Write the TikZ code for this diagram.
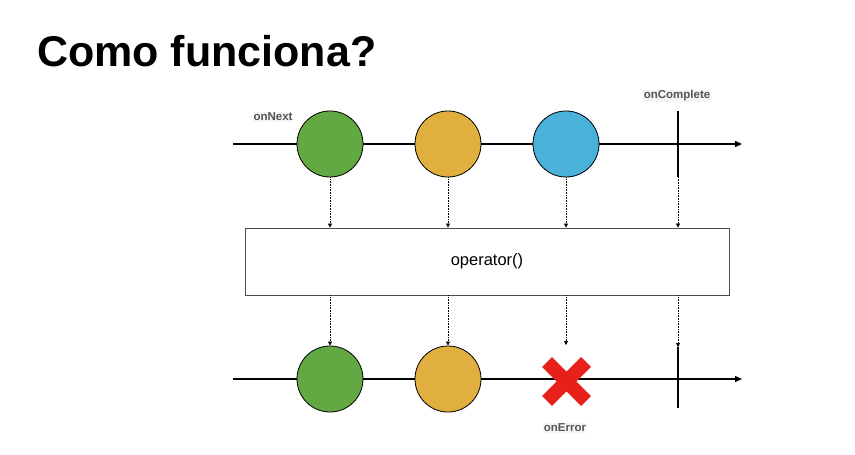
\documentclass[tikz,border=0pt]{standalone}
\usepackage{fontspec}
\setmainfont{Liberation Sans}
\usetikzlibrary{arrows.meta}
\definecolor{evgreen}{HTML}{62A943}
\definecolor{evorange}{HTML}{DFB03F}
\definecolor{evblue}{HTML}{4AB1D9}
\definecolor{everr}{HTML}{E8201A}
\definecolor{lbl}{HTML}{555555}
\tikzset{
  timeline/.style={line width=1.3pt, -{Triangle[length=7pt,width=6pt]}},
  marble/.style={circle, draw=black, line width=0.8pt, minimum size=66pt, inner sep=0pt},
  flow/.style={densely dotted, line width=0.6pt, -{Triangle[length=4pt,width=4pt]}},
  endmark/.style={line width=1.3pt},
  evlabel/.style={font=\bfseries\fontsize{11.5}{13}\selectfont, text=lbl, fill=black!4, inner sep=1pt},
  opbox/.style={draw=black!70, line width=0.8pt, minimum width=484pt, minimum height=67pt, inner sep=0pt},
}
\begin{document}
\begin{tikzpicture}[x=1pt, y=-1pt]
\useasboundingbox[fill=white] (0,0) rectangle (855,455);

% title
\node[anchor=base west, inner sep=0pt, font=\bfseries\fontsize{43}{48}\selectfont] (title) at (37,66) {Como funciona?};

% source stream
\coordinate (s0) at (233,144);
\coordinate (s1) at (742,144);
\draw[timeline] (s0) -- (s1);
\node[marble, fill=evgreen] (a1) at (330,144) {};
\node[marble, fill=evorange] (a2) at (448,144) {};
\node[marble, fill=evblue] (a3) at (566,144) {};
\coordinate (ct) at (678,111);
\coordinate (cb) at (678,177);
\draw[endmark] (ct) -- (cb);
\node[evlabel] (onnext) at (273,117) {onNext};
\node[evlabel] (oncomplete) at (677,96) {onComplete};

% operator
\node[opbox] (op) at (487,261.5) {\fontsize{16.5}{19}\selectfont operator()};

% result stream
\coordinate (r0) at (233,379);
\coordinate (r1) at (742,379);
\draw[timeline] (r0) -- (r1);
\node[marble, fill=evgreen] (b1) at (330,379) {};
\node[marble, fill=evorange] (b2) at (448,379) {};
\coordinate (x0) at (566.5,381.5);
\draw[everr, line width=14pt] ([shift={(-19.5,-19.5)}]x0) -- ([shift={(19.5,19.5)}]x0)
  ([shift={(-19.5,19.5)}]x0) -- ([shift={(19.5,-19.5)}]x0);
\coordinate (dt) at (678,347);
\coordinate (db) at (678,408);
\draw[endmark] (dt) -- (db);
\node[evlabel] (onerror) at (565,428) {onError};

% flow through the operator
\draw[flow] (a1.south) -- (a1.south |- op.north);
\draw[flow] (a2.south) -- (a2.south |- op.north);
\draw[flow] (a3.south) -- (a3.south |- op.north);
\draw[flow] (cb) -- (cb |- op.north);
\draw[flow] (a1.south |- op.south) -- (b1.north);
\draw[flow] (a2.south |- op.south) -- (b2.north);
\draw[flow] (a3.south |- op.south) -- (566,345);
\draw[flow] (cb |- op.south) -- (dt);
\end{tikzpicture}
\end{document}
